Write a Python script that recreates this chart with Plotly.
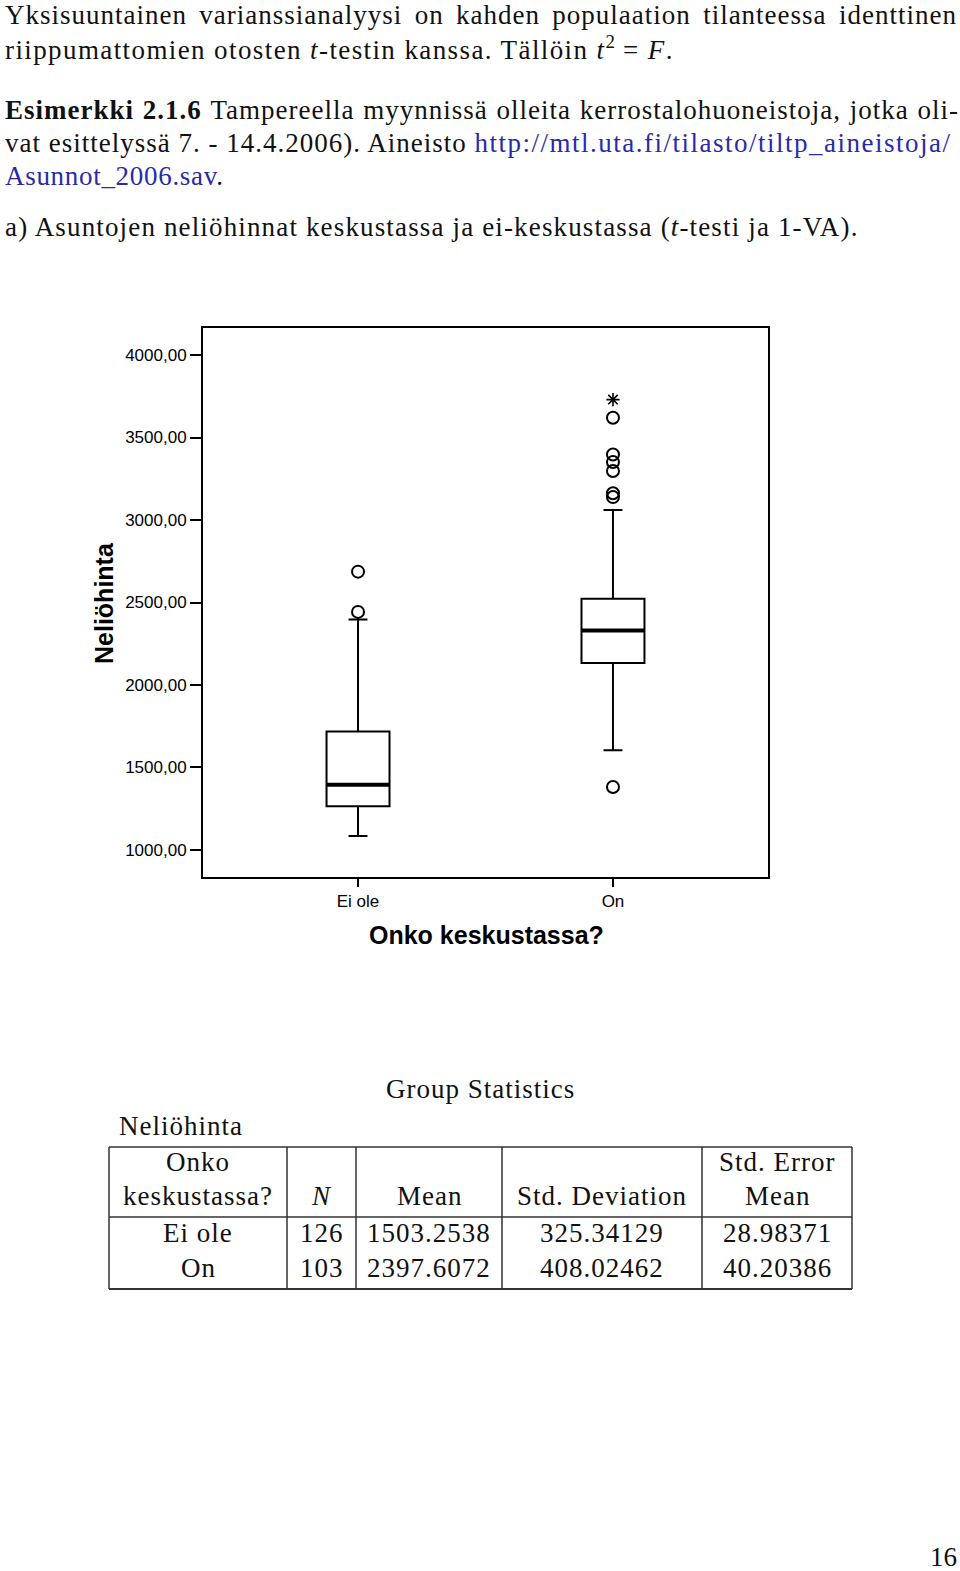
import plotly.graph_objects as go

W, H = 960, 1571

# ---------------- data ----------------
categories = ["Ei ole", "On"]
cat_pos = [0, 1]
q1 = [1265, 2134]
median = [1395, 2330]
q3 = [1718, 2522]
lower_whisker = [1085, 1605]
upper_whisker = [2397, 3060]
outliers_ei_ole = [2443, 2687]
outliers_on = [1382, 3139, 3162, 3297, 3352, 3397, 3620]
extremes_on = [3730]

y_tickvals = [1000, 1500, 2000, 2500, 3000, 3500, 4000]
y_ticktext = ["1000,00", "1500,00", "2000,00", "2500,00", "3000,00", "3500,00", "4000,00"]

tbl_header = ["Onko<br>keskustassa?", "<i>N</i>", "Mean", "Std. Deviation", "Std. Error<br>Mean"]
tbl_group = ["Ei ole", "On"]
tbl_n = ["126", "103"]
tbl_mean = ["1503.2538", "2397.6072"]
tbl_sd = ["325.34129", "408.02462"]
tbl_se = ["28.98371", "40.20386"]

# ---------------- helpers ----------------
def px(x):
    return x / W

def py(y):
    return 1 - y / H

SERIF = "Liberation Serif"
SANS = "Liberation Sans, Arial"
LINK = "#2a2aa8"
TXT = "#111111"
BOXW = 0.247

fig = go.Figure()

fig.add_trace(go.Box(
    x=cat_pos, q1=q1, median=median, q3=q3,
    lowerfence=lower_whisker, upperfence=upper_whisker,
    width=BOXW, whiskerwidth=0.3,
    line=dict(color="black", width=2), fillcolor="white",
    boxpoints=False, showlegend=False, hoverinfo="skip",
))

# thicker median lines
for xc, m in zip(cat_pos, median):
    fig.add_trace(go.Scatter(
        x=[xc - BOXW / 2, xc + BOXW / 2], y=[m, m], mode="lines",
        line=dict(color="black", width=4), showlegend=False, hoverinfo="skip",
    ))

fig.add_trace(go.Scatter(
    x=[cat_pos[0]] * len(outliers_ei_ole) + [cat_pos[1]] * len(outliers_on),
    y=outliers_ei_ole + outliers_on, mode="markers",
    marker=dict(symbol="circle-open", size=12, color="black", line=dict(width=2)),
    showlegend=False, hoverinfo="skip",
))
fig.add_trace(go.Scatter(
    x=[cat_pos[1]] * len(extremes_on), y=extremes_on, mode="markers",
    marker=dict(symbol="asterisk-open", size=11, color="black", line=dict(width=1.6)),
    showlegend=False, hoverinfo="skip",
))

# ---------------- layout ----------------
fig.update_layout(
    width=W, height=H, margin=dict(l=0, r=0, t=0, b=0),
    paper_bgcolor="white", plot_bgcolor="white",
    xaxis=dict(domain=[px(203), px(768)], range=[-0.608, 1.608],
               tickvals=cat_pos, ticktext=categories,
               ticks="outside", ticklen=8, tickwidth=2, tickcolor="black",
               showline=True, mirror=True, linecolor="black", linewidth=2,
               showgrid=False, zeroline=False,
               tickfont=dict(family=SANS, size=17, color="black")),
    yaxis=dict(domain=[py(877), py(328)], range=[836, 4164],
               tickvals=y_tickvals, ticktext=y_ticktext,
               ticks="outside", ticklen=11, tickwidth=2, tickcolor="black",
               showline=True, mirror=True, linecolor="black", linewidth=2,
               showgrid=False, zeroline=False,
               tickfont=dict(family=SANS, size=17, color="black")),
)

ann = []
def text(x, y, s, size=27, family=SERIF, xanchor="left", color=TXT, angle=0, align="center"):
    ann.append(dict(x=px(x), y=py(y), xref="paper", yref="paper", text=s,
                    showarrow=False, xanchor=xanchor, yanchor="middle", align=align,
                    textangle=angle, font=dict(family=family, size=size, color=color)))

def sp(s, ws=0, extra="", ls=1.0):
    return f"<span style='letter-spacing:{ls}px;word-spacing:{ws}px{extra}'>{s}</span>"

IT = ";font-style:italic"
text(3, 15, sp("Yksisuuntainen varianssianalyysi on kahden populaation tilanteessa identtinen", 4.6))
L2 = 1.4
text(3, 48, sp("riippumattomien otosten ", ls=L2) + sp("t", 0, IT, L2) + sp("-testin kanssa. Tällöin ", ls=L2)
     + sp("t", 0, IT, L2) + "<sup>2</sup>" + sp(" = ", ls=L2) + sp("F", 0, IT, L2) + sp(".", ls=L2))
text(3, 110, sp("Esimerkki 2.1.6 ", 1, ";font-weight:bold")
     + sp("Tampereella myynnissä olleita kerrostalohuoneistoja, jotka oli-", 1))
text(3, 143, sp("vat esittelyssä 7. - 14.4.2006). Aineisto ", 0)
     + sp("http://mtl.uta.fi/tilasto/tiltp_aineistoja/", 0, f";fill:{LINK}", 1.5))
text(3, 176, sp("Asunnot_2006.sav", 0, f";fill:{LINK}", 0.7) + sp(".", ls=0.7))
L6 = 1.15
text(3, 227, sp("a) Asuntojen neliöhinnat keskustassa ja ei-keskustassa (", ls=L6) + sp("t", 0, IT, L6)
     + sp("-testi ja 1-VA).", ls=L6))

text(104, 603, "<b>Neliöhinta</b>", size=25, family=SANS, xanchor="center", color="black", angle=-90)
text(486, 935, "<b>Onko keskustassa?</b>", size=25, family=SANS, xanchor="center", color="black")

# ---------------- table ----------------
text(480, 1089, sp("Group Statistics"), xanchor="center")
text(117, 1126, sp("Neliöhinta"))

col_edges = [109, 287, 356, 502, 702, 852]
row_top, row_head, row_bot = 1147, 1217, 1289
shapes = []
def hline(y, w=1.5):
    shapes.append(dict(type="line", xref="paper", yref="paper", x0=px(col_edges[0]), x1=px(col_edges[-1]),
                       y0=py(y), y1=py(y), line=dict(color="#333333", width=w)))
hline(row_top)
hline(row_head)
hline(row_bot, 2.2)
for xe in col_edges:
    shapes.append(dict(type="line", xref="paper", yref="paper", x0=px(xe), x1=px(xe),
                       y0=py(row_top), y1=py(row_bot), line=dict(color="#333333", width=1.5)))

centers = [(a + b) / 2 for a, b in zip(col_edges[:-1], col_edges[1:])]
for c, h in zip(centers, tbl_header):
    parts = h.split("<br>")
    if len(parts) == 2:
        text(c, 1162, sp(parts[0]), xanchor="center")
        text(c, 1196, sp(parts[1]), xanchor="center")
    else:
        text(c, 1196, sp(parts[0]), xanchor="center")

for c, col in zip(centers, [tbl_group, tbl_n, tbl_mean, tbl_sd, tbl_se]):
    text(c, 1233, sp(col[0]), xanchor="center")
    text(c, 1268, sp(col[1]), xanchor="center")

text(943, 1557, "16", size=27, xanchor="center")

fig.update_layout(annotations=ann, shapes=shapes)
fig.write_html("out.html")
